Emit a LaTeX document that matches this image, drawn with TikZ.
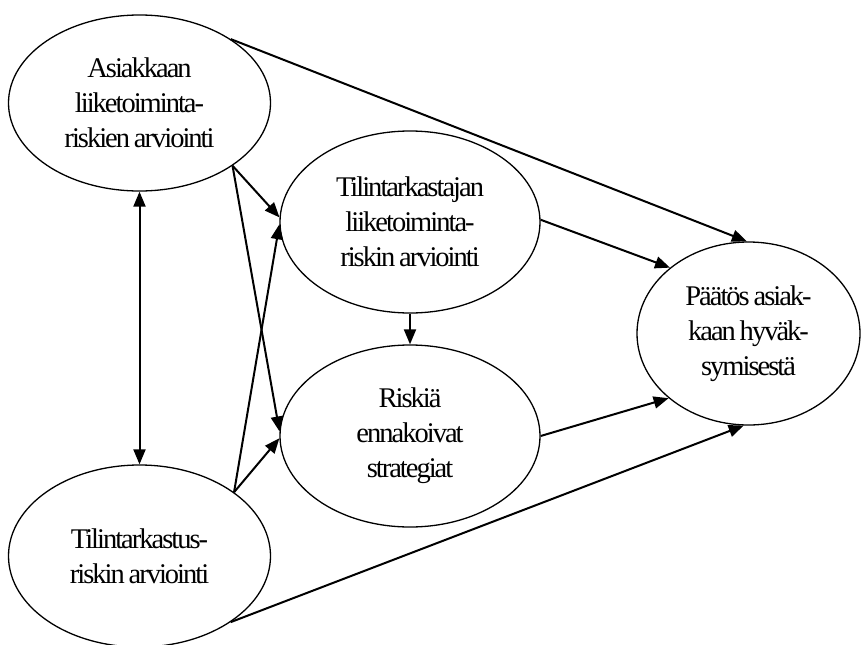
\documentclass[tikz,border=0pt]{standalone}
\usepackage{fontspec}
\setmainfont{Liberation Serif}[LetterSpace=-7, WordSpace=0.75]
\usetikzlibrary{shapes.geometric,arrows.meta}
\begin{document}
\begin{tikzpicture}[x=1pt,y=-1pt,
  bubble/.style={ellipse,draw,line width=1.3pt,inner sep=0pt,align=center,
    font=\fontsize{28.5}{35}\selectfont},
  link/.style={line width=2pt,-{Triangle[length=15pt,width=12pt]}},
  both/.style={line width=2pt,{Triangle[length=15pt,width=12pt]}-{Triangle[length=15pt,width=12pt]}}]
\useasboundingbox (0,0) rectangle (862,645);

\node[bubble,minimum width=262pt,minimum height=176pt] (A) at (139.5,103)
  {Asiakkaan\\liiketoiminta-\\riskien arviointi};
\node[bubble,minimum width=260pt,minimum height=182pt] (B) at (410,222)
  {Tilintarkastajan\\liiketoiminta-\\riskin arviointi};
\node[bubble,minimum width=260pt,minimum height=182pt] (C) at (410,436)
  {Riskiä\\ennakoivat\\strategiat};
\node[bubble,minimum width=223pt,minimum height=183pt] (D) at (748.5,333.5)
  {Päätös asiak-\\kaan hyväk-\\symisestä};
\node[bubble,minimum width=262pt,minimum height=182pt] (E) at (139.5,556)
  {Tilintarkastus-\\riskin arviointi};

% connectors
\draw[both] (A.270) -- (E.90);
\draw[link] (A.35) -- (D.91);
\draw[link] (A.326) -- (B.178);
\draw[link] (A.326) -- (C.178.5);
\draw[link] (E.34.7) -- (B.181);
\draw[link] (E.34.7) -- (C.181.5);
\draw[link] (B.270) -- (C.90);
\draw[link] (B.1) -- (D.140.2);
\draw[link] (C.-0.5) -- (D.219.4);
\draw[link] (E.324.8) -- (D.267);
\end{tikzpicture}
\end{document}
